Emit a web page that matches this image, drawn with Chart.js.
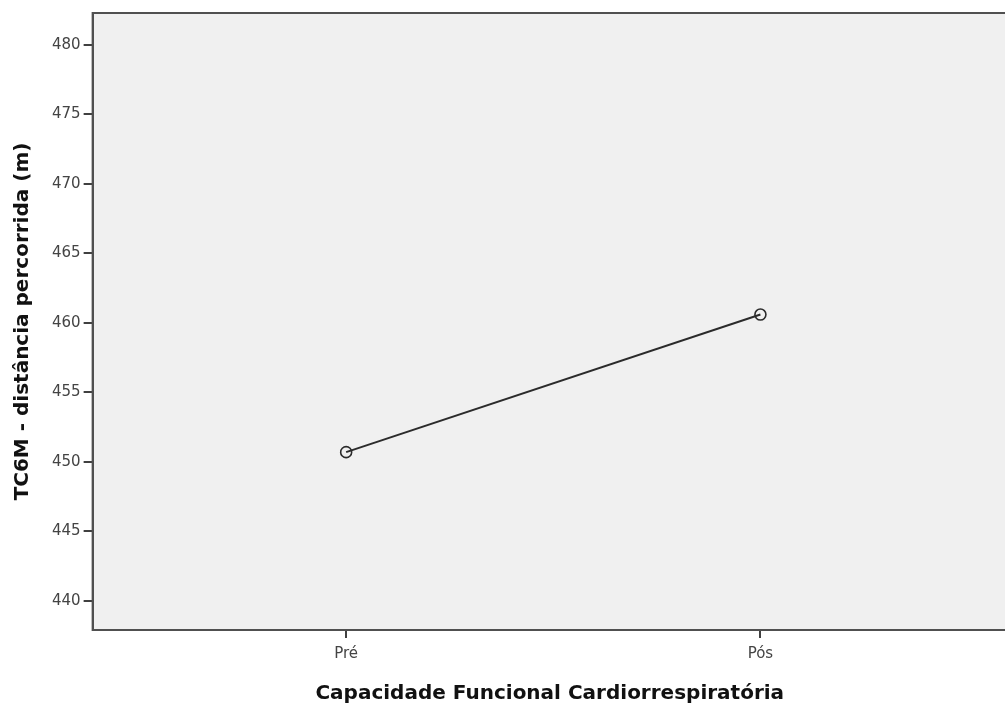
<!DOCTYPE html>
<html>
<head>
<meta charset="utf-8">
<script src="https://cdn.jsdelivr.net/npm/chart.js@4"></script>
<style>
  html, body { margin: 0; padding: 0; background: #fff; overflow: hidden; }
  #wrap { width: 1014px; height: 707px; }
</style>
</head>
<body>
<div id="wrap"><canvas id="tc6mChart"></canvas></div>
<script>
// data
const categories = ['Pré', 'Pós'];
const distances = [450.7, 460.6];
const yTicks = [440, 445, 450, 455, 460, 465, 470, 475, 480];

// grey plot area with a frame round it
const plotFrame = {
    id: 'plotFrame',
    beforeDraw(chart) {
        const a = chart.chartArea;
        const ctx = chart.ctx;
        ctx.save();
        ctx.fillStyle = '#f0f0f0';
        ctx.fillRect(a.left, a.top, a.right - a.left, a.bottom - a.top);
        ctx.restore();
    },
    afterDatasetsDraw(chart) {
        const a = chart.chartArea;
        const ctx = chart.ctx;
        ctx.save();
        ctx.strokeStyle = '#505050';
        ctx.lineWidth = 2;
        ctx.strokeRect(a.left, a.top, a.right - a.left, a.bottom - a.top);
        ctx.restore();
    }
};

const ctx = document.getElementById('tc6mChart').getContext('2d');
const chart = new Chart(ctx, {
    type: 'line',
    data: {
        datasets: [{
            label: 'TC6M',
            data: distances.map((v, i) => ({ x: i, y: v })),
            borderColor: '#2b2b2b',
            borderWidth: 2,
            pointRadius: 5.5,
            pointBorderWidth: 1.6,
            pointBorderColor: '#2b2b2b',
            pointBackgroundColor: 'rgba(0,0,0,0)',
            tension: 0
        }]
    },
    options: {
        responsive: true,
        maintainAspectRatio: false,
        animation: false,
        layout: { padding: { top: 13, left: 11, right: 0, bottom: 1 } },
        plugins: {
            legend: { display: false },
            tooltip: { enabled: false }
        },
        scales: {
            x: {
                type: 'linear',
                min: -0.612,
                max: 1.595,
                afterBuildTicks: axis => { axis.ticks = categories.map((c, i) => ({ value: i })); },
                ticks: {
                    callback: v => categories[v],
                    color: '#444',
                    font: { family: 'DejaVu Sans', size: 15 },
                    padding: 7,
                    maxRotation: 0
                },
                grid: { drawOnChartArea: false, drawTicks: true, tickLength: 8, color: '#404040', lineWidth: 2 },
                border: { display: true, color: '#505050', width: 2 },
                title: {
                    display: true,
                    text: 'Capacidade Funcional Cardiorrespiratória',
                    color: '#111',
                    font: { family: 'DejaVu Sans', size: 20, weight: 'bold' },
                    padding: { top: 12, bottom: 0 }
                }
            },
            y: {
                min: 437.9,
                max: 482.3,
                afterBuildTicks: axis => { axis.ticks = yTicks.map(v => ({ value: v })); },
                ticks: {
                    color: '#444',
                    font: { family: 'DejaVu Sans', size: 15 },
                    padding: 3
                },
                grid: { drawOnChartArea: false, drawTicks: true, tickLength: 9, color: '#404040', lineWidth: 2 },
                border: { display: true, color: '#505050', width: 2 },
                title: {
                    display: true,
                    text: 'TC6M - distância percorrida (m)',
                    color: '#111',
                    font: { family: 'DejaVu Sans', size: 20, weight: 'bold' },
                    padding: { top: 0, bottom: 14 }
                }
            }
        }
    },
    plugins: [plotFrame]
});
</script>
</body>
</html>
